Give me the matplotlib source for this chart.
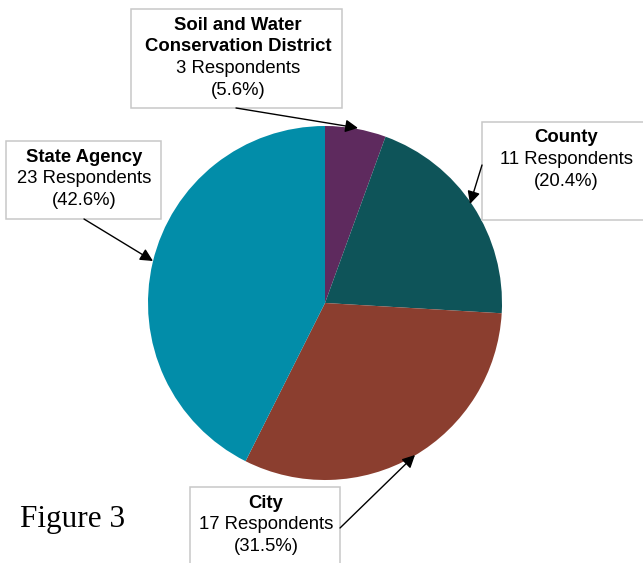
import matplotlib
matplotlib.use("Agg")
import matplotlib.pyplot as plt
from matplotlib.patches import Rectangle

# Survey respondents by agency type
titles = ["Soil and Water\nConservation District", "County", "City", "State Agency"]
counts = [3, 11, 17, 23]
colors = ["#5e2a5e", "#0e5459", "#8b3e2f", "#028da9"]

W, H = 643, 563


def py(y):
    # work in top-down pixel coordinates
    return H - y


fig = plt.figure(figsize=(W / 100, H / 100), dpi=100)
ax = fig.add_axes([0, 0, 1, 1])
ax.set_xlim(0, W)
ax.set_ylim(0, H)
ax.set_aspect("equal")
ax.axis("off")

ax.pie(counts, colors=colors, startangle=90, counterclock=False,
       center=(325, py(303)), radius=177, frame=True,
       wedgeprops=dict(linewidth=0))
ax.set_xlim(0, W)
ax.set_ylim(0, H)
ax.axis("off")

total = sum(counts)

# label boxes: (box left, top, right, bottom), text centre x, first line y
boxes = [
    ((131, 9, 342, 108), 238, 25),
    ((482, 122, 660, 220), 566, 138),
    ((190, 487, 340, 575), 266, 503),
    ((6, 141, 161, 219), 84, 157),
]
# arrow tail and tip for each label
arrows = [
    ((236, 108), (358, 128)),
    ((482, 165), (470, 204)),
    ((340, 528), (415, 455)),
    ((84, 219), (153, 261)),
]

step = 21.8
size = 13.3
font = "Liberation Sans"
for title, n, (box, cx, y0), (tail, tip) in zip(titles, counts, boxes, arrows):
    x0, t, x1, b = box
    ax.add_patch(Rectangle((x0, py(b)), x1 - x0, b - t, facecolor="white",
                           edgecolor="#c8c8c8", linewidth=1.1, zorder=3))
    lines = title.split("\n")
    y = y0
    for ln in lines:
        ax.text(cx, py(y), ln, ha="center", va="center", fontsize=size,
                fontweight="bold", family=font, zorder=4)
        y += step
    ax.text(cx, py(y), f"{n} Respondents", ha="center", va="center",
            fontsize=size, family=font, zorder=4)
    y += step
    ax.text(cx, py(y), f"({n / total * 100:.1f}%)", ha="center", va="center",
            fontsize=size, family=font, zorder=4)
    ax.annotate("", xy=(tip[0], py(tip[1])), xytext=(tail[0], py(tail[1])),
                arrowprops=dict(arrowstyle="-|>", color="black", lw=1.0,
                                mutation_scale=19, shrinkA=0, shrinkB=0),
                zorder=5)

ax.text(20, py(520), "Figure 3", ha="left", va="center", fontsize=22.5,
        family="Liberation Serif")

fig.savefig("out.png", dpi=100)
